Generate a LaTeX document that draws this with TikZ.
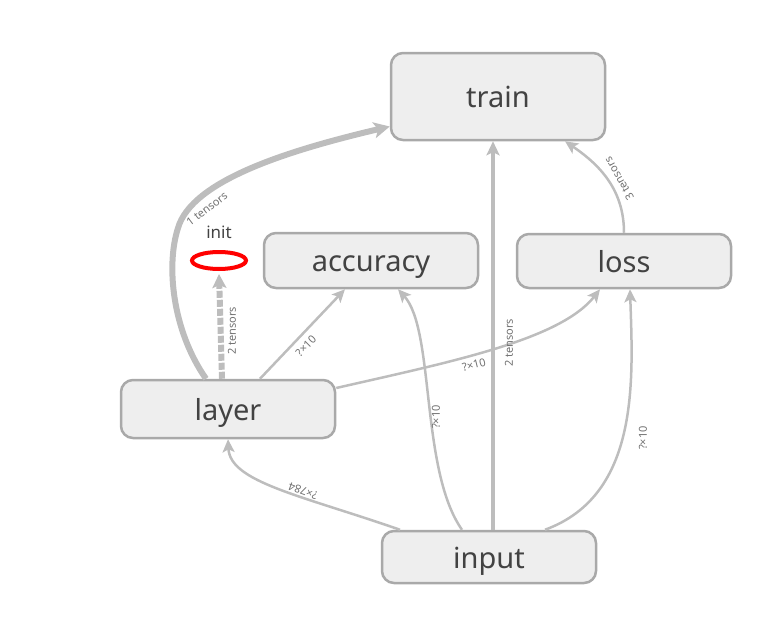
\documentclass[tikz,border=0pt]{standalone}
\usepackage{fontspec}
\setmainfont{Noto Sans}
\usetikzlibrary{arrows.meta,shapes.geometric}
\definecolor{edgegray}{HTML}{BDBDBD}
\definecolor{nodefill}{HTML}{EEEEEE}
\definecolor{nodeborder}{HTML}{A9A9A9}
\definecolor{nodetext}{HTML}{424242}
\definecolor{labeltext}{HTML}{707070}
\tikzset{
  box/.style={draw=nodeborder, line width=2.5pt, fill=nodefill, rounded corners=12pt,
    minimum width=214pt, text=nodetext, font=\fontsize{29}{32}\selectfont, inner sep=0pt,
    text height=22pt, text depth=0pt},
  edge/.style={draw=edgegray, line width=2.5pt, -{Stealth[length=13pt,width=12pt,inset=3pt]}},
  lbl/.style={text=labeltext, font=\fontsize{11}{13}\selectfont, inner sep=0pt}
}
\begin{document}
\begin{tikzpicture}[x=1pt,y=-1pt]
\useasboundingbox (0,0) rectangle (782,643);
\node[box, minimum height=87pt] (train) at (498,96.5) {train};
\node[box, minimum height=55pt] (accuracy) at (371,260.5) {accuracy};
\node[box, minimum height=54pt] (loss) at (624,261) {loss};
\node[box, minimum height=58pt] (layer) at (228,409) {layer};
\node[box, minimum height=52pt] (input) at (489,557) {input};
\node[draw=red, line width=4pt, ellipse, minimum width=54pt, minimum height=17pt, inner sep=0pt] (init) at (219,260.5) {};
\node[text=nodetext, font=\fontsize{17}{20}\selectfont] (initlbl) at (219,232) {init};

% layer -> train (thick)
\draw[edge, line width=6pt, -{Stealth[length=16pt,width=16pt,inset=4pt]}]
  ([xshift=-22pt]layer.north) .. controls (172,330) and (166,265) .. (178,228)
  .. controls (192,180) and (290,150) .. ([yshift=-30pt]train.west);
\node[lbl, rotate=37] (l1) at (207,209) {1 tensors};

% layer -> init (dashed)
\draw[edge, line width=6pt, dash pattern=on 7pt off 2pt, -{Stealth[length=14pt,width=14pt,inset=3pt]}]
  ([xshift=-6pt]layer.north) -- ([yshift=-3pt]init.south);
\node[lbl, rotate=90] (l2) at (232,331) {2 tensors};

% layer -> accuracy
\draw[edge] ([xshift=32pt]layer.north) -- ([xshift=-26pt]accuracy.south);
\node[lbl, rotate=45] (l3) at (306,346) {?×10};

% layer -> loss
\draw[edge] ([yshift=21pt]layer.east) .. controls (450,362) and (560,340) .. ([xshift=-24pt]loss.south);
\node[lbl, rotate=14] (l4) at (474,365) {?×10};

% input -> layer
\draw[edge] ([xshift=-89pt]input.north) .. controls (300,495) and (230,482) .. (layer.south);
\node[lbl, rotate=160] (l5) at (303,491) {?×784};

% input -> accuracy
\draw[edge] ([xshift=-27pt]input.north) .. controls (420,470) and (435,330) .. ([xshift=27pt]accuracy.south);
\node[lbl, rotate=90] (l6) at (436,417) {?×10};

% input -> train
\draw[edge, line width=4pt, -{Stealth[length=14pt,width=13pt,inset=3pt]}]
  ([xshift=4pt]input.north) -- ([xshift=-5pt]train.south);
\node[lbl, rotate=90] (l7) at (509,343) {2 tensors};

% input -> loss
\draw[edge] ([xshift=56pt]input.north) .. controls (640,495) and (633,380) .. ([xshift=6pt]loss.south);
\node[lbl, rotate=90] (l8) at (643,438) {?×10};

% loss -> train
\draw[edge] (loss.north) .. controls (624,190) and (600,165) .. ([xshift=67pt]train.south);
\node[lbl, rotate=120] (l9) at (619,179) {3 tensors};
\end{tikzpicture}
\end{document}
